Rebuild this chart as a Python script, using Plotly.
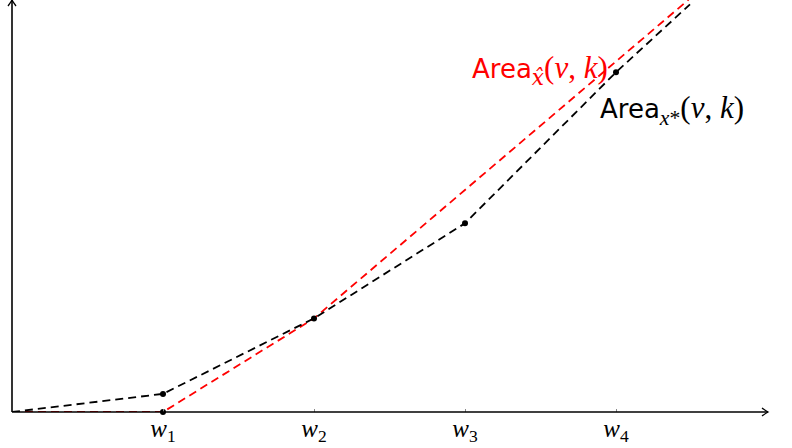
import plotly.graph_objects as go

# ---- data (units: w-spacing) ----
w_ticks = [1, 2, 3, 4]
w_labels = ["<i>w</i><sub>1</sub>", "<i>w</i><sub>2</sub>", "<i>w</i><sub>3</sub>", "<i>w</i><sub>4</sub>"]

black_x = [0, 1, 2, 3, 4, 4.49]
black_y = [0, 0.12, 0.62, 1.25, 2.25, 2.70]
black_pts_x = [1, 1, 2, 3, 4]
black_pts_y = [0, 0.12, 0.62, 1.25, 2.25]

red_x = [0, 1, 2, 4.48]
red_y = [0, 0, 0.62, 2.73]

# ---- layout constants ----
W, H = 792, 448
ML, MR, MT, MB = 12, 24, 0, 36
PW, PH = W - ML - MR, H - MT - MB
XMAX = PW / 151.0
YMAX = PH / 151.0

def px2x(px):
    return (px - ML) / 151.0

def py2y(py):
    return (H - MB - py) / 151.0

serif = "Liberation Serif"
sans = "DejaVu Sans"

fig = go.Figure()
fig.add_trace(go.Scatter(x=red_x, y=red_y, mode="lines",
                         line=dict(color="#ff0000", width=1.8, dash="8px,5px"),
                         hoverinfo="skip", showlegend=False))
fig.add_trace(go.Scatter(x=black_x, y=black_y, mode="lines",
                         line=dict(color="#000000", width=1.8, dash="8px,5px"),
                         hoverinfo="skip", showlegend=False))
fig.add_trace(go.Scatter(x=black_pts_x, y=black_pts_y, mode="markers",
                         marker=dict(color="#000000", size=6),
                         hoverinfo="skip", showlegend=False, cliponaxis=False))

# axes with open arrowheads
ax = 1.0 / PW
ay = 1.0 / PH
shapes = [
    dict(type="line", xref="paper", yref="paper", x0=0, y0=0, x1=1, y1=0,
         line=dict(color="black", width=1.6)),
    dict(type="line", xref="paper", yref="paper", x0=0, y0=0, x1=0, y1=1,
         line=dict(color="black", width=1.6)),
    dict(type="path", xref="paper", yref="paper",
         path=f"M {1-6*ax},{4*ay} Q {1-2*ax},{1*ay} 1,0 Q {1-2*ax},{-1*ay} {1-6*ax},{-4*ay}",
         line=dict(color="black", width=1.3)),
    dict(type="path", xref="paper", yref="paper",
         path=f"M {-4*ax},{1-6*ay} Q {-1*ax},{1-2*ay} 0,1 Q {1*ax},{1-2*ay} {4*ax},{1-6*ay}",
         line=dict(color="black", width=1.3)),
]

area = f"<span style='font-family:{sans};font-size:26px'>Area</span>"
args = "(<i>v</i>, <i>k</i>)"
annotations = [
    dict(x=px2x(781), y=py2y(428), xref="x", yref="y", showarrow=False,
         text="<i>v</i>", font=dict(family=serif, size=26, color="black")),
    dict(x=px2x(610), y=py2y(70), xref="x", yref="y", showarrow=False, xanchor="right",
         text=f"{area}<sub><span style='font-family:DejaVu Serif'><i>x̂</i></span></sub>{args}",
         font=dict(family=serif, size=31, color="#ff0000")),
    dict(x=px2x(598), y=py2y(110), xref="x", yref="y", showarrow=False, xanchor="left",
         text=f"{area}<sub><i>x</i>*</sub>{args}",
         font=dict(family=serif, size=31, color="#000000")),
]

fig.update_layout(
    width=W, height=H,
    margin=dict(l=ML, r=MR, t=MT, b=MB),
    paper_bgcolor="white", plot_bgcolor="white",
    shapes=shapes, annotations=annotations,
    xaxis=dict(range=[0, XMAX], showgrid=False, zeroline=False, showline=False,
               automargin=False,
               tickvals=w_ticks, ticktext=w_labels, ticks="inside", ticklen=3,
               tickwidth=0.6, tickcolor="#888888", ticklabelstandoff=-1,
               tickfont=dict(family=serif, size=25, color="black")),
    yaxis=dict(range=[0, YMAX], showgrid=False, zeroline=False, showline=False,
               automargin=False, showticklabels=False, ticks=""),
)

fig.write_html("out.html", config={"displayModeBar": False},
               post_script="document.body.style.margin='0px';")
